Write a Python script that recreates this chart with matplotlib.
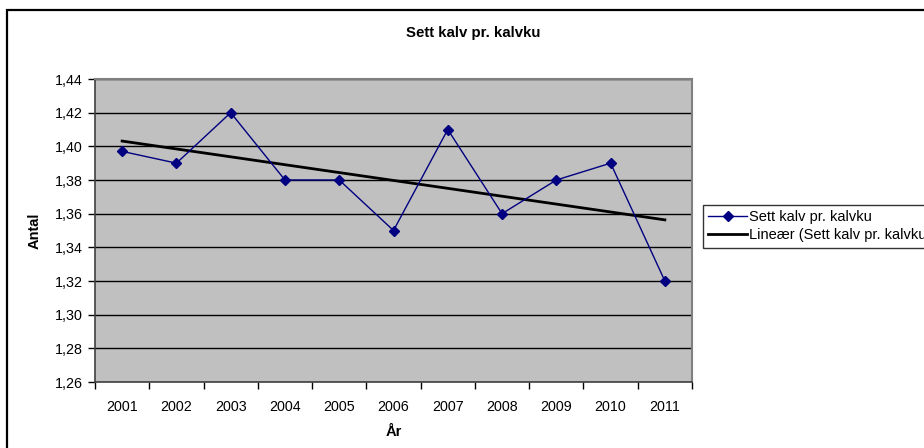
import numpy as np
import matplotlib.pyplot as plt
from matplotlib.patches import Rectangle
from matplotlib.lines import Line2D

plt.rcParams['font.family'] = ['Liberation Sans', 'DejaVu Sans']

# data
years = ['2001', '2002', '2003', '2004', '2005', '2006', '2007', '2008', '2009', '2010', '2011']
values = [1.397, 1.39, 1.42, 1.38, 1.38, 1.35, 1.41, 1.36, 1.38, 1.39, 1.32]
yticks = [1.26, 1.28, 1.30, 1.32, 1.34, 1.36, 1.38, 1.40, 1.42, 1.44]
ytick_labels = ['1,26', '1,28', '1,30', '1,32', '1,34', '1,36', '1,38', '1,40', '1,42', '1,44']

W, H = 924, 448
fig = plt.figure(figsize=(W / 100, H / 100), dpi=100)

# outer chart border (runs off right and bottom edges)
fig.patches.append(Rectangle((6.5 / W, -0.2), 2, 1.2 - 9.5 / H, transform=fig.transFigure,
                             fill=False, edgecolor='black', linewidth=1.6))

ax = fig.add_axes([95 / W, 1 - 382 / H, (692 - 95) / W, (382 - 79) / H])
ax.set_facecolor('#c0c0c0')

x = np.arange(1, len(years) + 1)
ax.plot(x, values, color='#000080', linewidth=1, marker='D', markersize=5,
        markerfacecolor='#000080', markeredgecolor='#000080', zorder=3)

# linear trend
k, m = np.polyfit(x, values, 1)
ax.plot(x, k * x + m, color='black', linewidth=2, zorder=2)

ax.set_xlim(0.5, len(years) + 0.5)
ax.set_ylim(1.26, 1.44)
ax.set_yticks(yticks)
ax.set_yticklabels(ytick_labels)
ax.set_xticks(np.arange(0.5, len(years) + 1, 1))
ax.set_xticklabels([])
ax.set_xticks(x, minor=True)
ax.set_xticklabels(years, minor=True)
ax.tick_params(axis='x', which='major', direction='out', length=5, width=1, color='black')
ax.tick_params(axis='x', which='minor', length=0, pad=13, labelsize=10.3)
ax.tick_params(axis='y', direction='out', length=5, width=1, color='black', pad=4, labelsize=10.3)

ax.grid(axis='y', color='black', linewidth=1)
ax.set_axisbelow(True)
for side in ['top', 'right']:
    ax.spines[side].set_color('#808080')
    ax.spines[side].set_linewidth(1.5)
for side in ['left', 'bottom']:
    ax.spines[side].set_color('#404040')
    ax.spines[side].set_linewidth(1.2)

ax.set_xlabel('År', fontsize=10.5, fontweight='bold', labelpad=8)
ax.set_ylabel('Antal', fontsize=10.5, fontweight='bold', labelpad=9)
fig.text(473 / W, 1 - 33 / H, 'Sett kalv pr. kalvku', ha='center', va='center',
         fontsize=10.8, fontweight='bold')

handles = [Line2D([], [], color='#000080', linewidth=1, marker='D', markersize=5),
           Line2D([], [], color='black', linewidth=2)]
leg = fig.legend(handles, ['Sett kalv pr. kalvku', 'Lineær (Sett kalv pr. kalvku)'],
                 loc='upper left', bbox_to_anchor=(703 / W, 1 - 205 / H),
                 fontsize=10.5, frameon=True, fancybox=False, handlelength=2.7,
                 handletextpad=0.1, borderpad=0.35, labelspacing=0.3, borderaxespad=0)
leg.get_frame().set_edgecolor('black')
leg.get_frame().set_linewidth(1)

fig.savefig('out.png', dpi=100)
